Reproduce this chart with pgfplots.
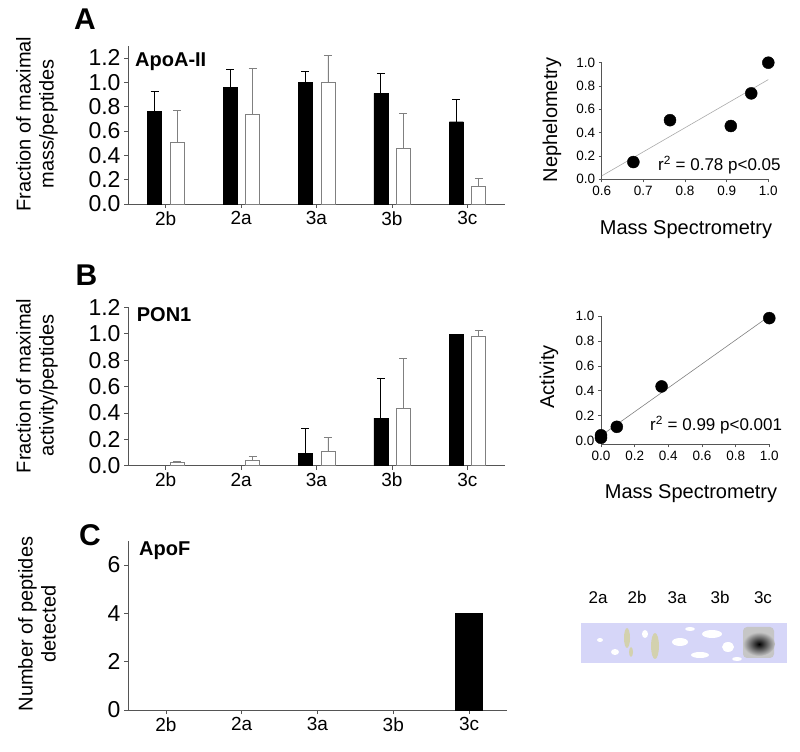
\documentclass[border=0pt]{standalone}
\usepackage{fontspec}
\setmainfont{Liberation Sans}
\usepackage{pgfplots}
\pgfplotsset{compat=1.18}
\definecolor{axgray}{RGB}{85,85,85}
\definecolor{bargray}{RGB}{128,128,128}
\definecolor{lav}{RGB}{214,214,248}
\definecolor{trend}{RGB}{170,170,170}

\pgfplotsset{
  /pgf/number format/assume math mode=true,
  barax/.style={
    scale only axis, axis lines*=left, clip=false,
    axis line style={axgray, line width=0.8bp},
    xmin=-0.5, xmax=4.5, xtick={0,1,2,3,4},
    xticklabels={2b,2a,3a,3b,3c},
    tick align=outside, tick pos=left, major tick length=4bp,
    tick style={axgray, line width=0.8bp},
    ymin=0,
    yticklabel style={font=\fontsize{23bp}{25bp}\selectfont, /pgf/number format/fixed, /pgf/number format/fixed zerofill, /pgf/number format/precision=1},
    xticklabel style={font=\fontsize{19bp}{22bp}\selectfont},
  },
  scatax/.style={
    scale only axis, axis lines*=left, clip=false,
    axis line style={axgray, line width=0.6bp},
    tick align=outside, tick pos=left, major tick length=3bp,
    tick style={axgray, line width=0.6bp},
    ticklabel style={font=\fontsize{13.5bp}{15bp}\selectfont, /pgf/number format/fixed, /pgf/number format/fixed zerofill, /pgf/number format/precision=1},
  },
  blackbar/.style={ybar, bar width=14bp, bar shift=0bp, fill=black, draw=black,
    error bars/.cd, y dir=plus, y explicit,
    error bar style={black, line width=0.8bp},
    error mark options={rotate=90, mark size=4bp, black, line width=0.8bp}},
  whitebar/.style={ybar, bar width=14bp, bar shift=0bp, fill=white, draw=bargray, line width=0.8bp,
    error bars/.cd, y dir=plus, y explicit,
    error bar style={bargray, line width=0.8bp},
    error mark options={rotate=90, mark size=4bp, bargray, line width=0.8bp}},
}

\begin{document}
\begin{tikzpicture}
\useasboundingbox (0,0) rectangle (800bp,752bp);

% ---------------- Panel A bars (black at x-0.146, white at x+0.152)
\begin{axis}[barax, at={(128bp,548bp)}, anchor=south west,
  width=377bp, height=158.2bp, ymax=1.3,
  ytick={0,0.2,0.4,0.6,0.8,1.0,1.2}]
\addplot[blackbar] coordinates {
 (-0.146,0.764) +- (0,0.16)
 (0.854,0.959) +- (0,0.15)
 (1.854,1.0)   +- (0,0.09)
 (2.854,0.91)  +- (0,0.165)
 (3.854,0.676) +- (0,0.18)};
\addplot[whitebar] coordinates {
 (0.152,0.507) +- (0,0.265)
 (1.152,0.737) +- (0,0.375)
 (2.152,1.0)   +- (0,0.22)
 (3.152,0.457) +- (0,0.29)
 (4.152,0.148) +- (0,0.063)};
\end{axis}

% ---------------- Panel B bars
\begin{axis}[barax, at={(128bp,286.3bp)}, anchor=south west,
  width=377bp, height=158.3bp, ymax=1.2,
  ytick={0,0.2,0.4,0.6,0.8,1.0,1.2}]
\addplot[blackbar] coordinates {
 (1.854,0.094) +- (0,0.19)
 (2.854,0.36)  +- (0,0.305)};
\addplot[ybar, bar width=14bp, bar shift=0bp, fill=black, draw=black] coordinates {(3.854,1.0)};
\addplot[whitebar] coordinates {
 (0.152,0.023) +- (0,0.01)
 (1.152,0.043) +- (0,0.025)
 (2.152,0.111) +- (0,0.10)
 (3.152,0.435) +- (0,0.38)
 (4.152,0.983) +- (0,0.044)};
\end{axis}

% ---------------- Panel C bars
\begin{axis}[barax, at={(128bp,42bp)}, anchor=south west,
  width=379bp, height=169.2bp, ymax=7,
  ytick={0,2,4,6},
  yticklabel style={/pgf/number format/precision=0, /pgf/number format/fixed zerofill=false}]
\addplot[ybar, bar width=27bp, fill=black, draw=black] coordinates {(4,4)};
\end{axis}

% ---------------- Scatter A
\begin{axis}[scatax, at={(601.7bp,572.7bp)}, anchor=south west,
  width=166.6bp, height=116.6bp,
  xmin=0.6, xmax=1.0, ymin=0, ymax=1.0,
  xtick={0.6,0.7,0.8,0.9,1.0}, ytick={0,0.2,0.4,0.6,0.8,1.0}]
\addplot[trend, line width=0.6bp] coordinates {(0.6,0.029) (1.0,0.855)};
\addplot[only marks, mark=*, mark size=6bp, black] coordinates {
 (0.676,0.148) (0.764,0.507) (0.91,0.457) (0.959,0.737) (1.0,1.0)};
\end{axis}

% ---------------- Scatter B
\begin{axis}[scatax, at={(601bp,307.6bp)}, anchor=south west,
  width=168.3bp, height=128.4bp,
  xmin=0, xmax=1.0, ymin=-0.03, ymax=1.0,
  xtick={0,0.2,0.4,0.6,0.8,1.0}, ytick={0,0.2,0.4,0.6,0.8,1.0}]
\addplot[gray, line width=0.6bp] coordinates {(0,0.04) (1.0,0.999)};
\addplot[only marks, mark=*, mark size=6bp, black] coordinates {
 (0,0.023) (0,0.043) (0.094,0.111) (0.36,0.435) (1.0,0.983)};
\end{axis}

% ---------------- Panel letters and titles
\node[font=\fontsize{30bp}{32bp}\selectfont\bfseries] at (85bp,733bp) {A};
\node[font=\fontsize{30bp}{32bp}\selectfont\bfseries] at (86.5bp,477bp) {B};
\node[font=\fontsize{30bp}{32bp}\selectfont\bfseries] at (90bp,217bp) {C};

\node[anchor=west, font=\fontsize{20bp}{22bp}\selectfont\bfseries, inner sep=0] at (135bp,690.3bp) {ApoA-II};
\node[anchor=west, font=\fontsize{20bp}{22bp}\selectfont\bfseries, inner sep=0] at (136.7bp,437bp) {PON1};
\node[anchor=west, font=\fontsize{20bp}{22bp}\selectfont\bfseries, inner sep=0] at (139bp,201.2bp) {ApoF};

\node[rotate=90, align=center, font=\fontsize{20bp}{23bp}\selectfont] at (37bp,628bp) {Fraction of maximal\\mass/peptides};
\node[rotate=90, align=center, font=\fontsize{20bp}{23bp}\selectfont] at (37bp,366.2bp) {Fraction of maximal\\activity/peptides};
\node[rotate=90, align=center, font=\fontsize{20bp}{23bp}\selectfont] at (37bp,128bp) {Number of peptides\\detected};

\node[rotate=90, font=\fontsize{20bp}{23bp}\selectfont] at (552bp,632bp) {Nephelometry};
\node[font=\fontsize{20bp}{23bp}\selectfont] at (686bp,522bp) {Mass Spectrometry};
\node[rotate=90, font=\fontsize{20bp}{23bp}\selectfont] at (549bp,375.3bp) {Activity};
\node[font=\fontsize{20bp}{23bp}\selectfont] at (691bp,258.7bp) {Mass Spectrometry};

\node[anchor=west, inner sep=0, font=\fontsize{17bp}{19bp}\selectfont] at (658bp,587bp) {r\textsuperscript{2} = 0.78 p<0.05};
\node[anchor=west, inner sep=0, font=\fontsize{17bp}{19bp}\selectfont] at (650bp,327bp) {r\textsuperscript{2} = 0.99 p<0.001};

% ---------------- Blot image
\fill[lav] (580.7bp,89.3bp) rectangle (786.7bp,129.3bp);
\fill[white] (600bp,112bp) ellipse [x radius=3bp, y radius=2bp];
\fill[white] (615bp,100bp) ellipse [x radius=4bp, y radius=3bp];
\fill[white] (645bp,118bp) ellipse [x radius=3bp, y radius=4bp];
\fill[white] (680bp,110bp) ellipse [x radius=8bp, y radius=4bp];
\fill[white] (700bp,97bp) ellipse [x radius=9bp, y radius=3bp];
\fill[white] (712bp,118bp) ellipse [x radius=10bp, y radius=4bp];
\fill[white] (728bp,105bp) ellipse [x radius=6bp, y radius=5bp];
\fill[white] (690bp,123bp) ellipse [x radius=5bp, y radius=2bp];
\fill[white] (737bp,93bp) ellipse [x radius=5bp, y radius=2bp];
\fill[olive!40, opacity=0.6] (627bp,114bp) ellipse [x radius=3bp, y radius=10bp];
\fill[olive!40, opacity=0.6] (631bp,100bp) ellipse [x radius=2bp, y radius=5bp];
\fill[olive!40, opacity=0.6] (655bp,106bp) ellipse [x radius=4bp, y radius=13bp];
\fill[gray!45, rounded corners=4bp] (743bp,94bp) rectangle (774bp,125bp);
\shade[inner color=black, outer color=gray!45] (759bp,108bp) ellipse [x radius=16bp, y radius=12bp];

\node[font=\fontsize{17bp}{19bp}\selectfont] at (598bp,154.7bp) {2a};
\node[font=\fontsize{17bp}{19bp}\selectfont] at (637bp,154.7bp) {2b};
\node[font=\fontsize{17bp}{19bp}\selectfont] at (677bp,154.7bp) {3a};
\node[font=\fontsize{17bp}{19bp}\selectfont] at (720bp,154.7bp) {3b};
\node[font=\fontsize{17bp}{19bp}\selectfont] at (763bp,154.7bp) {3c};
\end{tikzpicture}
\end{document}
